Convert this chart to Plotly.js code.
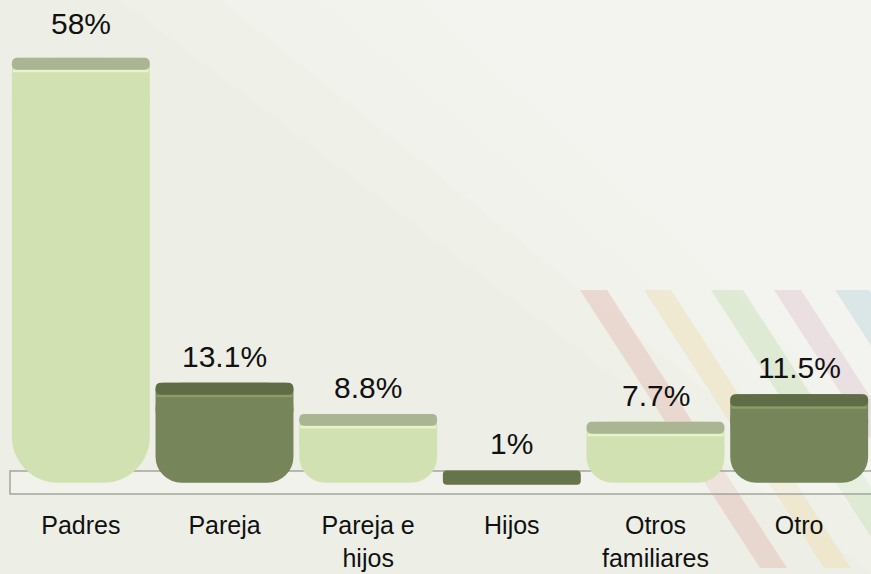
<!DOCTYPE html>
<html><head><meta charset="utf-8">
<script src="https://cdn.plot.ly/plotly-3.0.1.min.js"></script>
<style>html,body{margin:0;padding:0;background:#eef0e7;}</style>
</head><body>
<div id="chart" style="width:871px;height:574px;"></div>
<script>
// Data
const categories = ["Padres", "Pareja", "Pareja e<br>hijos", "Hijos", "Otros<br>familiares", "Otro"];
const values = [58, 13.1, 8.8, 1, 7.7, 11.5];
const labels = ["58%", "13.1%", "8.8%", "1%", "7.7%", "11.5%"];
const shade = ["light", "dark", "light", "dark", "light", "dark"];

const pal = {
  light: {main: "#d2e1b2", cap: "#aab594", hi: "#e7f3c8", slab: "#c3d2a3"},
  dark:  {main: "#76855a", cap: "#606c45", hi: "#8c9c69", slab: "#66744a"}
};
const col = k => shade.map(s => pal[s][k]);
const W = 0.96;
const FONT = "Liberation Sans, Arial, sans-serif";
const BOTTOM = 0.7;      // rounded foot below the floor line
const hover = "skip";

const isBig = values.map(v => v >= 20);
const isSlab = values.map(v => v < 3);

// body pills (rounded at both ends)
const pill = (sel, r) => ({type: "bar", x: categories, width: W, hoverinfo: hover,
  base: values.map(() => -BOTTOM),
  y: values.map((v, i) => sel(i) ? v + BOTTOM : null),
  marker: {color: col("main"), cornerradius: r, line: {width: 0}}});
const bodySmall = pill(i => !isBig[i] && !isSlab[i], 26);
const bodyBig = pill(i => isBig[i], 46);

// top block with small corner radius
const topH = values.map((v, i) => isBig[i] ? 7.8 : 5);
const topBlock = {type: "bar", x: categories, width: W, hoverinfo: hover,
  base: values.map((v, i) => v - topH[i]),
  y: values.map((v, i) => isSlab[i] ? null : topH[i]),
  marker: {color: col("main"), cornerradius: 8, line: {width: 0}}};

// thin slab for tiny values
const slab = {type: "bar", x: categories, width: W, hoverinfo: hover,
  base: values.map(() => -1.0),
  y: values.map((v, i) => isSlab[i] ? v + 1.0 : null),
  marker: {color: col("slab"), cornerradius: 4, line: {width: 0}}};

// highlight line and top cap band
const hi = {type: "bar", x: categories, width: W * 0.985, hoverinfo: hover,
  base: values.map(v => v - 2.0),
  y: values.map((v, i) => isSlab[i] ? null : 0.35),
  marker: {color: col("hi"), line: {width: 0}}};
const cap = {type: "bar", x: categories, width: W, hoverinfo: hover,
  base: values.map(v => v - 1.65),
  y: values.map((v, i) => isSlab[i] ? null : 1.65),
  marker: {color: col("cap"), cornerradius: 6, line: {width: 0}}};

const annotations = categories.map((c, i) => ({
  x: c, y: values[i], xref: "x", yref: "y", text: labels[i], showarrow: false,
  yanchor: "bottom", yshift: isBig[i] ? 16 : 8, font: {family: FONT, size: 30, color: "#111"}
}));

// pixel helpers for decorative shapes (plot area: x 9..871, y 22..495)
const px = x => (x - 9) / 862;
const py = y => (495 - y) / 473;
const stripes = [
  {x0: 580, w: 27, c: "rgba(226,180,170,0.4)"},
  {x0: 644, w: 27, c: "rgba(240,220,170,0.4)"},
  {x0: 711, w: 32, c: "rgba(200,225,185,0.45)"},
  {x0: 774, w: 27, c: "rgba(220,195,205,0.4)"},
  {x0: 835, w: 34, c: "rgba(190,215,220,0.45)"}
];
// soft lighter diagonal sheen, built from several faint layers
const shapes = [];
[[120, 380, 0.12], [220, 330, 0.12], [320, 280, 0.12], [420, 230, 0.12]].forEach(([a, b, o]) => {
  shapes.push({type: "path", xref: "paper", yref: "paper", layer: "below", line: {width: 0},
    fillcolor: `rgba(255,255,255,${o})`,
    path: `M ${px(a)},${py(0)} L ${px(880)},${py(0)} L ${px(880)},${py(b + 200)} Z`});
});
stripes.forEach(s => {
  const dx = 180;
  shapes.push({type: "path", xref: "paper", yref: "paper", layer: "below", line: {width: 0}, fillcolor: s.c,
    path: `M ${px(s.x0)},${py(290)} L ${px(s.x0 + s.w)},${py(290)} L ${px(s.x0 + s.w + dx)},${py(568)} L ${px(s.x0 + dx)},${py(568)} Z`});
});
shapes.push({type: "rect", xref: "paper", yref: "paper", layer: "below",
  x0: px(10), x1: px(880), y0: py(494), y1: py(471),
  line: {color: "#a3a59e", width: 1.5}, fillcolor: "rgba(250,250,246,0.35)"});

const layout = {
  width: 871, height: 574,
  margin: {l: 9, r: 0, t: 22, b: 79, pad: 0},
  paper_bgcolor: "#edefe6", plot_bgcolor: "rgba(0,0,0,0)",
  barmode: "overlay", showlegend: false,
  xaxis: {range: [-0.5, 5.5], showgrid: false, zeroline: false, showline: false, ticks: "",
          ticklabelstandoff: 13,
          tickfont: {family: FONT, size: 25, color: "#111"}},
  yaxis: {range: [-2.4, 62.93], visible: false, showgrid: false, zeroline: false},
  annotations: annotations,
  shapes: shapes
};

Plotly.newPlot("chart", [bodySmall, bodyBig, topBlock, slab, hi, cap], layout,
  {displayModeBar: false, staticPlot: true});
</script>
</body></html>
